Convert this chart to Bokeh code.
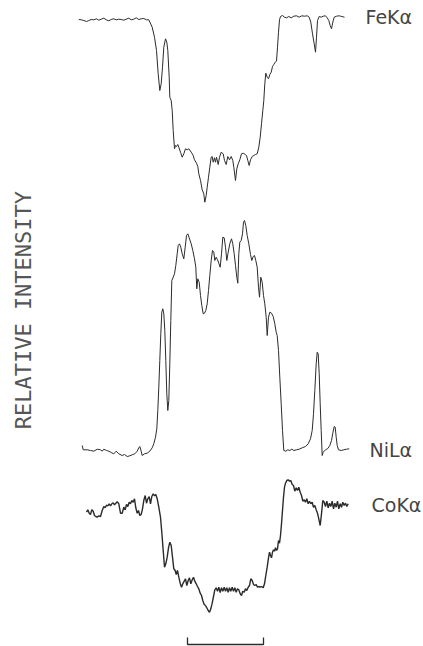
import math
from bokeh.plotting import figure
from bokeh.models import Range1d, Label, ColumnDataSource
from bokeh.embed import file_html
from bokeh.resources import INLINE

# ---------------- data (scan position, relative intensity, arbitrary units) ----------------
fe_x = [0.3, 2.7, 5.3, 8, 10.3, 12.7, 15.3, 18, 20.3, 22.7, 25.3, 27.7, 30.3, 32.7, 35.3, 37.7,
        40.3, 42.7, 45.3, 47.7, 50.3, 52.7, 55.3, 57.7, 60.3, 62.7, 65.3, 68, 70.3,
        73.7, 76, 78, 79.7, 81.3, 82.7, 84, 85.3, 87, 88.3, 89.3, 90.7, 91.3, 92.7, 93.7, 94.7,
        96, 97, 98, 99.3, 100.3, 102, 103.7, 105.3, 107, 108.7, 110.3, 112.7, 114.7, 116, 118,
        119.3, 120.3, 122, 123.7, 125.3, 126.3, 127.7, 128.7, 130, 131.3, 132.7, 133.7, 134.7,
        136, 137, 138, 139.7, 141, 142.7, 144.7, 146, 147.7, 149.3, 151, 152.7, 154.3, 155.3,
        157, 158.3, 159.7, 161.3, 163, 164.7, 166.7, 168, 169.3, 170.7, 172, 173.7, 175.3, 177,
        178.7, 180.3, 181.7, 183, 184.3, 185.3, 186.3, 187.3, 188.7, 190, 191.3, 192.7, 194,
        195.3, 196.7, 198, 199, 200, 201, 202, 204, 206, 208, 210.3, 212.7, 215.3, 218, 220.7,
        223.3, 226, 228.7, 230.7, 232.3, 234, 235.7, 237, 238, 239, 240.7, 242.7, 244.7, 247,
        248.7, 250.3, 251.7, 253, 254.3, 255.7, 258, 260.7, 263.3, 266]
fe_y = [191, 190.7, 190, 189, 190, 191, 190.7, 191.7, 190.3, 191.3, 192.3, 190.7, 189.7, 191,
        191.7, 190.7, 191.3, 191, 190.3, 191.3, 192.3, 190.7, 191.3, 192.7, 191, 191.7, 192,
        190.7, 190.7,
        183.3, 173.3, 160, 136.7, 120, 126.7, 143.3, 163.3, 171.7, 168.3, 160, 133.3, 113.3,
        110, 100, 80, 61.7, 65, 64, 66, 63.3, 58.3, 53.3, 56.7, 61.7, 60.7, 61.7, 58.3, 55,
        50.7, 47.3, 44, 36.7, 30, 20.7, 16.7, 8.3, 15, 23.3, 33.3, 43.3, 53.3, 54, 48.3, 52.7,
        48.3, 53.3, 46, 53.3, 58.3, 56.7, 50, 46, 54, 50.7, 54, 50, 43.3, 30, 41.7, 46.7, 50.7,
        56.7, 57.3, 56, 55, 50, 45, 50.7, 54, 55, 56, 56.7, 63.3, 73.3, 86.7, 100, 110, 126.7,
        137.3, 133.3, 131.7, 136, 138.3, 144, 146, 148.3, 149.3, 163.3, 178.3, 190.7, 194, 195,
        193.3, 192.7, 194, 192.7, 194.3, 194.7, 193.3, 194.7, 194.3, 194.7, 193.3, 188.3, 176.7,
        166.7, 158.3, 173.3, 190, 194, 193.3, 194.3, 194.7, 192.7, 190, 185, 181.7, 188.3,
        193.3, 194.3, 194.7, 194, 193.3]

ni_x = [3.7, 4.7, 8.7, 12, 15.3, 18.7, 22, 23.7, 25.3, 28, 30.3, 32.7, 35.3, 37.7, 40.3, 43.7,
        46, 48.7, 51.3, 53.7, 56.3, 58.7, 60.3, 61.3, 62.7, 63.7, 66, 68.7, 71.3, 73.7, 75.3,
        77, 78.3, 79.3, 80.3, 81.3, 82.3, 83.3, 84.3, 85.3, 86.3, 87.3, 88.3, 89.3, 90.3, 91.3,
        92.3, 93.3, 94.7, 96, 97.3, 98.7, 99.7, 101, 102.3, 103.7, 105.3, 106.7, 108, 109.3,
        110.7, 112.7, 114.3, 116, 117.3, 118.3, 119.3, 120.7, 122, 123.3, 124.7, 126, 127.3,
        128.7, 130, 131.3, 132.7, 134, 135.3, 136.3, 137.7, 139, 140.3, 141.7, 143, 144.3,
        145.7, 147, 148.3, 149.7, 151.3, 153, 154.3, 155.7, 157, 158.3, 159.3, 160.3, 161.3,
        162.7, 164, 165, 166, 167.3, 168.7, 170.3, 172, 173.3, 174.7, 176, 177.3, 178.7, 180,
        181, 182.3, 183.7, 185, 186.3, 187.7, 188.7, 190, 191.3, 193, 194.7, 196.3, 197.7,
        198.7, 200, 201.3, 202.7, 204, 205.3, 207.3, 209.3, 211.3, 213.3, 215.3, 218, 220.7,
        223.7, 227, 229.7, 232, 233.7, 235, 236.3, 237.7, 238.7, 239.7, 240.7, 241.7, 242.7,
        243.7, 244.7, 247, 249.3, 251.3, 253, 254.3, 255.7, 256.7, 257.7, 258.7, 260, 262.7,
        265.3, 268, 270.7]
ni_y = [15, 10.7, 10.7, 10, 9.3, 11.3, 10.7, 9.3, 11.3, 10, 9.3, 8, 6.7, 9.3, 6.7, 5, 6, 4,
        4.7, 5.7, 6.7, 9.3, 12.7, 14, 9.3, 5, 6.7, 7.3, 9.3, 12.7, 16.7, 23.3, 31.7, 50, 73.3,
        100, 126.7, 148.3, 151.7, 146.7, 130, 100, 66.7, 50, 60, 96.7, 140, 180, 183.3, 186.7,
        195, 206.7, 215, 216.7, 213.3, 206.7, 201.7, 213.3, 225, 226.7, 222.7, 216.7, 210,
        201.7, 193.3, 171.7, 181.7, 178.3, 165, 155, 146.7, 147.3, 150, 156.7, 170, 185, 200,
        210, 208.3, 200, 203.3, 200.7, 197.3, 193.3, 206.7, 223.3, 222.7, 213.3, 200, 208.3,
        216.7, 221.7, 216.7, 206.7, 195, 183.3, 177.3, 206.7, 218.3, 220, 226.7, 238.3, 240,
        235, 225, 216.7, 206, 200, 204, 205, 200, 193.3, 173.3, 163.3, 183.3, 178.3, 165,
        156.7, 143.3, 125, 143.3, 148.3, 147.3, 144, 136.7, 128.3, 125, 110, 83.3, 56.7, 30,
        10, 9.3, 10.7, 10, 11.3, 10, 10.7, 11.3, 12.7, 14, 16.7, 21.7, 30, 46.7, 70, 96.7,
        108.3, 106.7, 86.7, 56.7, 30, 5, 8.3, 10.7, 12, 15, 20, 27.3, 34, 33.3, 23.3, 15, 10.7,
        10, 10.7, 11.3, 11.7]

co_x = [8, 9.3, 10.7, 12, 13.3, 14.7, 16, 17.3, 18.7, 20.3, 22, 23.7, 25.3, 26.7, 28, 29.3,
        30.7, 32, 33.3, 34.7, 36, 37.3, 38.7, 40.3, 42, 43.7, 45.3, 46.7, 48, 49.3, 50.7, 52,
        53.3, 54.7, 56, 57.3, 58.7, 60, 61.3, 62.7, 64, 65.3, 66.7, 68, 69.3, 70.7, 72, 73.3,
        74.7, 76, 77.3, 78.7, 80.3, 82, 83.3, 84.7, 86, 87.3, 88.7, 90, 91.3, 92.7, 94, 95.3,
        96.7, 97.7, 99, 100.3, 101.7, 103, 104.3, 105.7, 107, 108.3, 109.7, 111, 112.3, 113.7,
        115, 116.3, 117.7, 119, 120.3, 121.7, 123, 124.3, 125.7, 127, 128.3, 129.7, 131, 132.3,
        133.7, 135, 136.3, 137.7, 139, 140.3, 141.7, 143, 144.3, 145.7, 147, 148.3, 149.7, 151,
        152.3, 153.7, 155, 156.3, 157.7, 159, 160.3, 161.7, 163, 164.3, 165.7, 167, 168.3,
        169.7, 171, 172.3, 173.7, 175, 176.3, 177.7, 179, 180.3, 181.7, 183, 184.7, 186, 187.3,
        188.7, 190, 191, 192, 193, 194, 195, 196, 197, 198, 199, 200, 201, 202, 203, 204, 205,
        206, 207, 208.3, 209.7, 211, 212.3, 213.7, 215, 216.3, 217.7, 219, 220.3, 221.7, 223,
        224.3, 225.7, 227, 228.3, 229.7, 231, 232.3, 233.7, 235, 236.3, 237.7, 239, 240.3,
        241.7, 243, 244.3, 245.7, 247, 248.3, 249.7, 251, 252.3, 253.7, 255, 256.3, 257.7, 259,
        260.3, 261.7, 263, 264.3, 265.7, 267, 268.3, 269.7]
co_y = [108.3, 110.7, 107.3, 106, 110.7, 109.3, 105, 104, 103.3, 104.7, 104, 110, 114, 112.7,
        115.3, 114.7, 116.7, 114.7, 116.7, 117.7, 115.7, 117.3, 118.7, 116.7, 107.3, 107.3,
        113.3, 110.7, 116, 114, 118.3, 116.7, 120, 118.3, 121.7, 112.7, 107.3, 110, 105, 106,
        111.7, 120, 125, 117.3, 121.7, 124, 116.7, 124, 126.7, 124.7, 126, 121.7, 113.3, 103.3,
        88.3, 70, 53.3, 56.7, 63.3, 72.7, 78.3, 75, 63.3, 51.7, 50, 46, 50, 43.3, 37.3, 33.3,
        36.7, 39.3, 41.7, 35, 40, 42.7, 36.7, 40.7, 43.3, 39.3, 36.7, 34, 31.7, 27.3, 25, 20,
        16, 15, 12.7, 10, 8.3, 11.7, 17.3, 24, 30.7, 32.7, 29.3, 33.3, 28, 32.7, 29.3, 33.3,
        29.3, 32.7, 28.3, 32.7, 29.3, 33.3, 29.3, 32.7, 28.3, 31.7, 30.7, 26.7, 25, 29.3, 28.3,
        31.7, 30, 33.3, 35, 41.7, 40, 36, 35, 36, 33.3, 34, 33.3, 34, 32.7, 36.7, 45, 53.3,
        62.7, 68.3, 65, 62.7, 68.3, 70.7, 69.3, 72.7, 70, 71.7, 80, 77.3, 85, 96.7, 110, 123.3,
        133.3, 137.3, 140, 140.7, 139.3, 140, 136, 135, 129.3, 132.7, 130, 133.3, 128.3, 125,
        119.3, 120.7, 118.3, 121.7, 116.7, 119.3, 116.7, 118.3, 113.3, 115, 110.7, 107.3, 101.7,
        95, 106.7, 120, 118.3, 114, 119.3, 112.7, 117.3, 114, 119.3, 111.7, 117.3, 113.3, 119.3,
        111.7, 116.7, 113.3, 118.3, 115, 117.3, 114, 116.7]

labels = ["FeK\u03b1", "NiL\u03b1", "CoK\u03b1"]
y_title = "RELATIVE  INTENSITY"
scale_start = 109   # scan units
scale_length = 76   # scan units

# ---------------- layout / styles ----------------
W, H = 423, 646
offsets = [436, 186, 26]          # vertical stacking of the three traces
label_x = [287, 291, 293]
label_dy = [194, 11, 116]
ink = "#2b2b2b"

p = figure(width=W, height=H, x_range=Range1d(-78, W - 78), y_range=Range1d(0, H),
           output_backend="svg", toolbar_location=None,
           x_axis_type=None, y_axis_type=None, min_border=0)
p.grid.visible = False
p.outline_line_color = None
p.background_fill_color = "white"
p.border_fill_color = "white"

for xs, ys, off, lw in [(fe_x, fe_y, offsets[0], 1.0),
                        (ni_x, ni_y, offsets[1], 1.0),
                        (co_x, co_y, offsets[2], 1.4)]:
    src = ColumnDataSource(dict(x=xs, y=[v + off for v in ys]))
    p.line("x", "y", source=src, line_color=ink, line_width=lw)

for txt, lx, off, dy in zip(labels, label_x, offsets, label_dy):
    p.add_layout(Label(x=lx, y=off + dy, text=txt, text_font="DejaVu Sans",
                       text_font_size="19px", text_color="#444444",
                       text_baseline="middle", text_align="left"))

# scale bar
sb_y0, sb_y1 = 2, 9
p.line([scale_start, scale_start, scale_start + scale_length, scale_start + scale_length],
       [sb_y1, sb_y0, sb_y0, sb_y1], line_color=ink, line_width=1.3)

p.add_layout(Label(x=23, y=H - 303, x_units="screen", y_units="screen", text=y_title,
                   angle=math.pi / 2, text_font="DejaVu Sans Mono", text_font_size="22px",
                   text_color="#555555", text_align="center", text_baseline="middle"))

open("out.html", "w").write(file_html(p, INLINE))
